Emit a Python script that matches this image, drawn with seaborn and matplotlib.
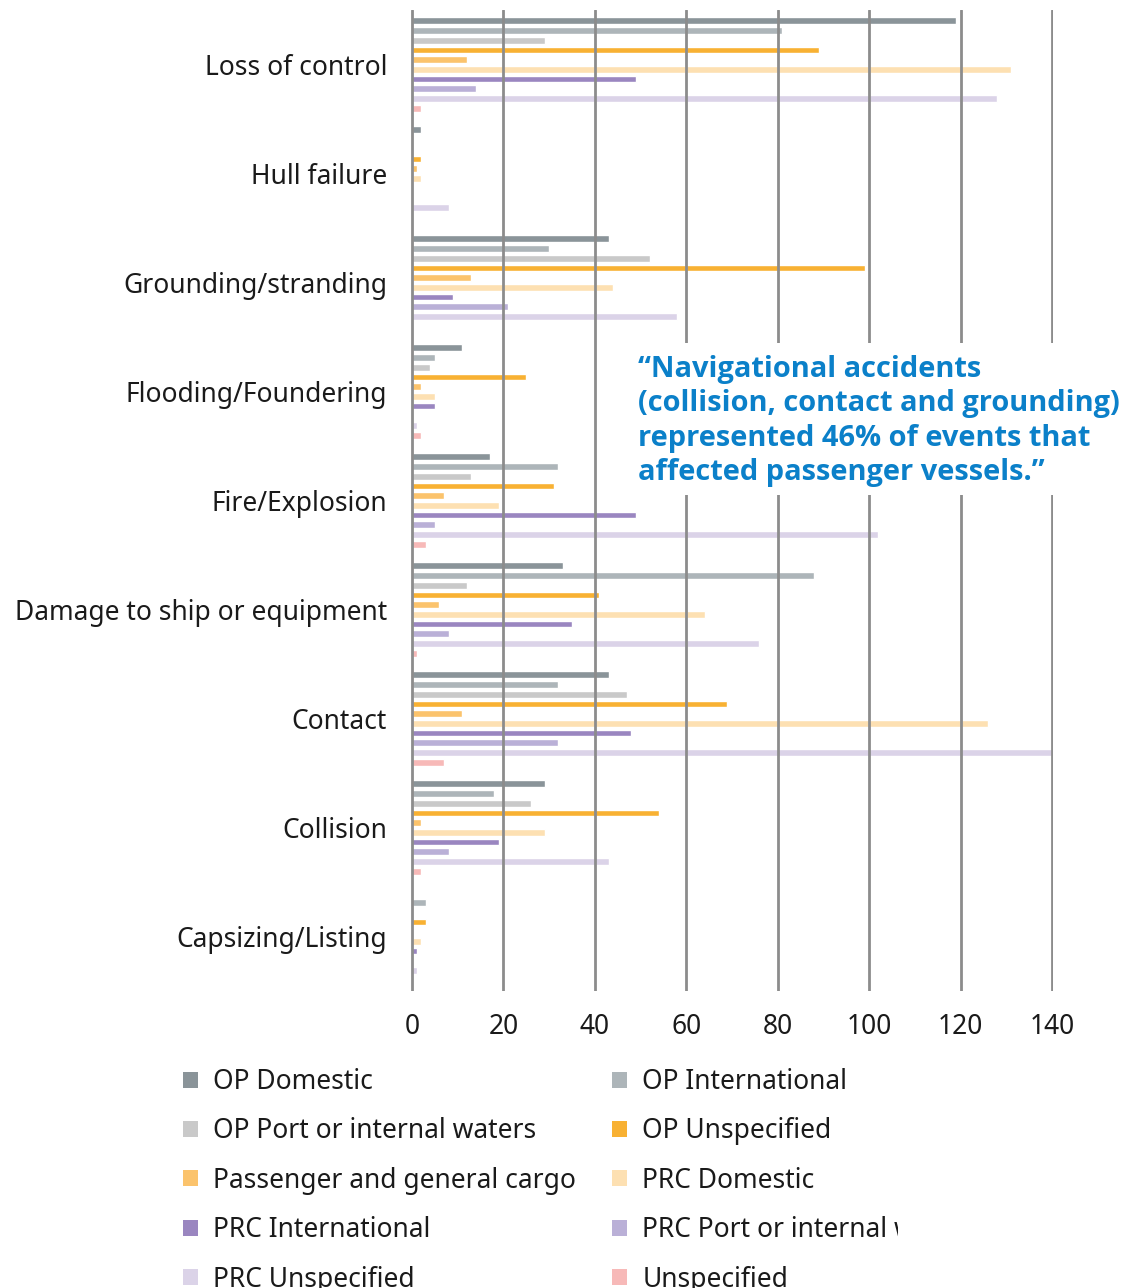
import matplotlib
matplotlib.use("Agg")
import matplotlib.pyplot as plt
from matplotlib.patches import Rectangle, Patch
from matplotlib.transforms import Bbox
import pandas as pd
import seaborn as sns

# Accident categories (top to bottom)
categories = [
    "Loss of control",
    "Hull failure",
    "Grounding/stranding",
    "Flooding/Foundering",
    "Fire/Explosion",
    "Damage to ship or equipment",
    "Contact",
    "Collision",
    "Capsizing/Listing",
]

series = [
    "OP Domestic",
    "OP International",
    "OP Port or internal waters",
    "OP Unspecified",
    "Passenger and general cargo",
    "PRC Domestic",
    "PRC International",
    "PRC Port or internal waters",
    "PRC Unspecified",
    "Unspecified",
]

colors = [
    "#8a9499", "#adb5b9", "#c9c9c9", "#f8b133", "#fbc36c",
    "#fde0b2", "#9a86c0", "#bab0d7", "#dbd3e8", "#f7b9b8",
]

# Event counts per series, one value per category
op_domestic = [119, 2, 43, 11, 17, 33, 43, 29, 0]
op_international = [81, 0, 30, 5, 32, 88, 32, 18, 3]
op_port = [29, 0, 52, 4, 13, 12, 47, 26, 0]
op_unspecified = [89, 2, 99, 25, 31, 41, 69, 54, 3]
passenger_cargo = [12, 1, 13, 2, 7, 6, 11, 2, 0]
prc_domestic = [131, 2, 44, 5, 19, 64, 126, 29, 2]
prc_international = [49, 0, 9, 5, 49, 35, 48, 19, 1]
prc_port = [14, 0, 21, 0, 5, 8, 32, 8, 0]
prc_unspecified = [128, 8, 58, 1, 102, 76, 140, 43, 1]
unspecified = [2, 0, 0, 2, 3, 1, 7, 2, 0]

x_ticks = [0, 20, 40, 60, 80, 100, 120, 140]

quote_lines = [
    "\u201cNavigational accidents",
    "(collision, contact and grounding)",
    "represented 46% of events that",
    "affected passenger vessels.\u201d",
]

values = [op_domestic, op_international, op_port, op_unspecified, passenger_cargo,
          prc_domestic, prc_international, prc_port, prc_unspecified, unspecified]

rows = []
for s, vals in zip(series, values):
    for c, v in zip(categories, vals):
        rows.append({"category": c, "series": s, "count": v})
df = pd.DataFrame(rows)

sns.set_theme(style="white")
plt.rcParams["font.family"] = ["Noto Sans", "DejaVu Sans"]

W, H = 1126, 1288
fig = plt.figure(figsize=(W / 100, H / 100), dpi=100)

px_per_unit = 640 / 140
x0, x1 = -0.3, 140.3
ax_left = 412 + x0 * px_per_unit
ax_width = (x1 - x0) * px_per_unit
ax_top, ax_bottom = 10, 991
ax = fig.add_axes([ax_left / W, 1 - ax_bottom / H, ax_width / W, (ax_bottom - ax_top) / H])

sns.barplot(
    data=df, y="category", x="count", hue="series",
    order=categories, hue_order=series, palette=colors,
    orient="h", width=0.89, gap=0.3, saturation=1,
    errorbar=None, legend=False, ax=ax,
)

ax.set_xlim(x0, x1)
ax.set_ylim(len(categories) - 0.5, -0.5)
ax.set_xticks(x_ticks)
ax.set_xticklabels([str(t) for t in x_ticks])
ax.set_xlabel("")
ax.set_ylabel("")
for sp in ax.spines.values():
    sp.set_visible(False)
ax.set_axisbelow(False)
ax.xaxis.grid(True, color="#8c8c8c", linewidth=2.0, zorder=5)
ax.yaxis.grid(False)
ax.tick_params(axis="y", length=0, pad=17, labelsize=19, labelcolor="#1a1a1a")
ax.tick_params(axis="x", length=0, pad=16, labelsize=19, labelcolor="#1a1a1a")

# White panel behind the quote
fig.patches.append(Rectangle((620 / W, 1 - 495 / H), (W - 620) / W, 152 / H,
                             transform=fig.transFigure, facecolor="white",
                             edgecolor="none", zorder=1))
baselines = [377, 411, 446, 480]
for line, yb in zip(quote_lines, baselines):
    fig.text(638 / W, 1 - yb / H, line, ha="left", va="baseline",
             fontsize=20.9, fontweight="bold", color="#0b80c9", zorder=3,
             family=["Open Sans", "DejaVu Sans"])

# Legend laid out row-wise in two columns
handles = [Patch(facecolor=c, edgecolor="none") for c in colors]
legend_kw = dict(frameon=False, fontsize=19, handlelength=0.55, handleheight=0.55,
                 handletextpad=0.6, labelspacing=0.81, borderpad=0, borderaxespad=0,
                 loc="upper left", bbox_transform=fig.transFigure, labelcolor="#1a1a1a")
leg1 = fig.legend(handles[0::2], series[0::2], bbox_to_anchor=(183 / W, 1 - 1068 / H), **legend_kw)
leg2 = fig.legend(handles[1::2], series[1::2], bbox_to_anchor=(612 / W, 1 - 1068 / H), **legend_kw)
clip = Bbox.from_extents(0, 0, 898, H)
leg2.get_texts()[3].set_clip_box(clip)
leg2.get_texts()[3].set_clip_on(True)

fig.savefig("out.png", dpi=100)
